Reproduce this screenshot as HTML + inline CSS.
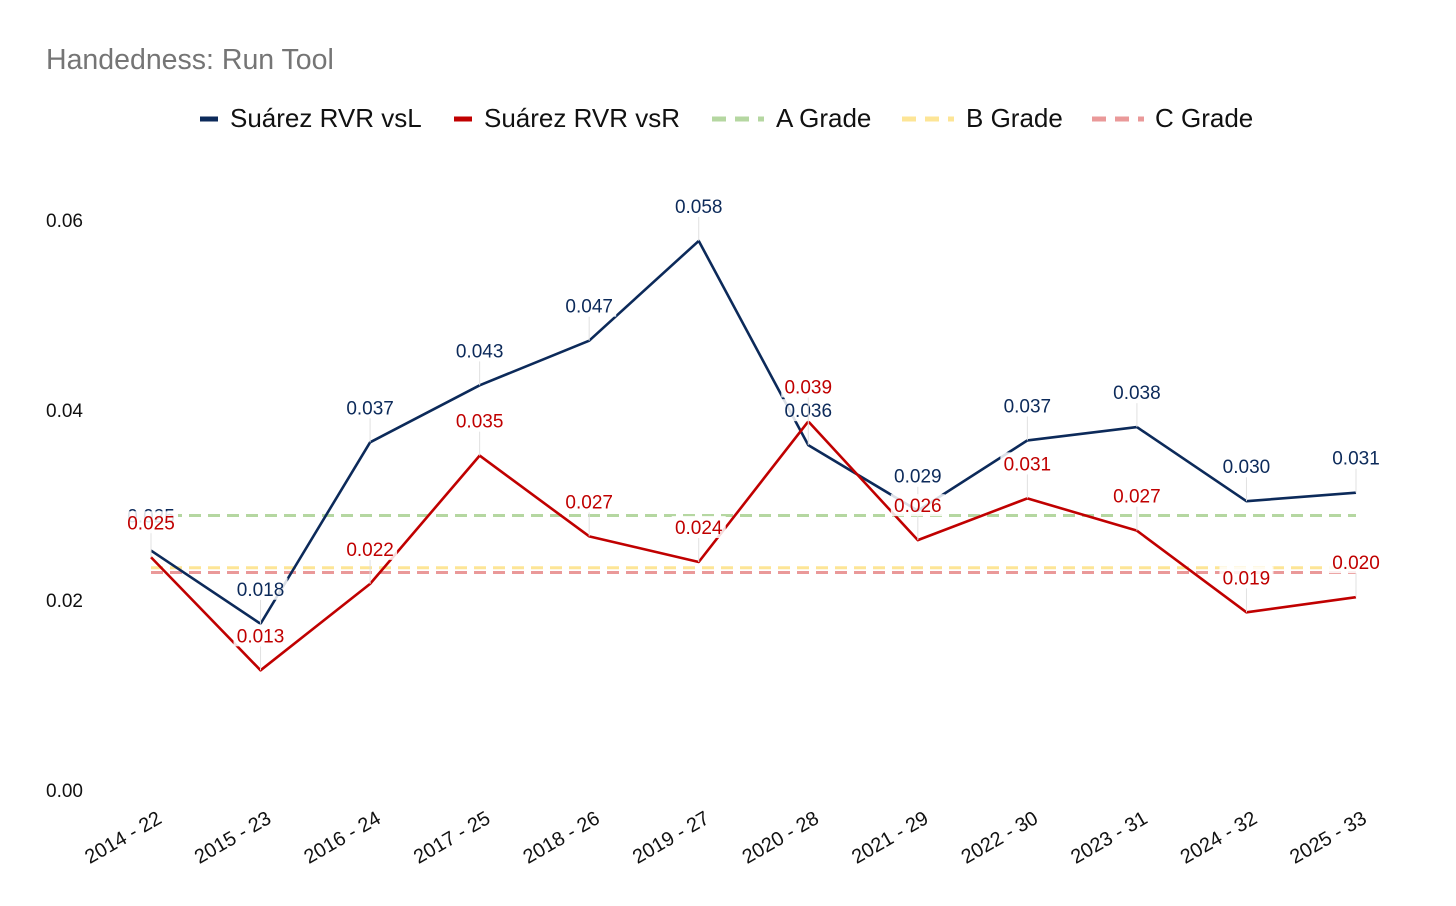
<!DOCTYPE html>
<html><head><meta charset="utf-8"><style>
body{margin:0;background:#fff;font-family:"Liberation Sans",sans-serif}
</style></head><body>
<svg width="1456" height="901" viewBox="0 0 1456 901" xmlns="http://www.w3.org/2000/svg">
<text x="46" y="69" font-size="28.5" fill="#757575">Handedness: Run Tool</text>
<g id="legend" font-size="26" fill="#111">
 <g><line x1="200" y1="119" x2="218" y2="119" stroke="#0c2a5a" stroke-width="5"/><text x="230" y="127">Suárez RVR vsL</text></g>
 <g><line x1="454" y1="119" x2="472" y2="119" stroke="#c00000" stroke-width="5"/><text x="484" y="127">Suárez RVR vsR</text></g>
 <g><line x1="712" y1="119" x2="764" y2="119" stroke="#b5d7a1" stroke-width="5" stroke-dasharray="14,9"/><text x="776" y="127">A Grade</text></g>
 <g><line x1="902" y1="119" x2="954" y2="119" stroke="#fde596" stroke-width="5" stroke-dasharray="14,9"/><text x="966" y="127">B Grade</text></g>
 <g><line x1="1092" y1="119" x2="1144" y2="119" stroke="#ea9999" stroke-width="5" stroke-dasharray="14,9"/><text x="1155" y="127">C Grade</text></g>
</g>
<g id="axes"></g>
<g id="grades"></g>
<g id="series"></g>
<g id="labels"></g>
</svg>
<script>
const categories=["2014 - 22","2015 - 23","2016 - 24","2017 - 25","2018 - 26","2019 - 27","2020 - 28","2021 - 29","2022 - 30","2023 - 31","2024 - 32","2025 - 33"];
const vsL=[0.0252,0.0175,0.0366,0.0426,0.0473,0.0578,0.0363,0.0294,0.0368,0.0382,0.0304,0.0313];
const vsR=[0.0245,0.0126,0.0217,0.0352,0.0267,0.0240,0.0388,0.0263,0.0307,0.0273,0.0187,0.0203];
const gradeA=0.0289, gradeB=0.0234, gradeC=0.0229;
const yTicks=[0,0.02,0.04,0.06];
const yTickLabels=["0.00","0.02","0.04","0.06"];
const NS="http://www.w3.org/2000/svg";
const xs=i=>151+i*(1205/(categories.length-1));
const ys=v=>790-v*9500;
function mk(tag,attrs,parent,text){const e=document.createElementNS(NS,tag);for(const k in attrs)e.setAttribute(k,attrs[k]);if(text!==undefined)e.textContent=text;parent.appendChild(e);return e;}
const axes=document.getElementById('axes');
yTicks.forEach((t,i)=>{const e=mk('text',{x:46,y:ys(t)+7,'font-size':19,fill:'#111'},axes,yTickLabels[i]);

});
categories.forEach((c,i)=>{const e=mk('text',{x:0,y:0,'font-size':20,fill:'#111','text-anchor':'end',transform:`translate(${xs(i)+12},${822}) rotate(-30)`},axes,c);

});
const gr=document.getElementById('grades');
[[gradeA,'#b5d7a1','a-grade-line'],[gradeB,'#fde596','b-grade-line'],[gradeC,'#ea9999','c-grade-line']].forEach(g=>{
const e=mk('line',{x1:xs(0),x2:xs(categories.length-1),y1:ys(g[0]),y2:ys(g[0]),stroke:g[1],'stroke-width':3,'stroke-dasharray':'12,7'},gr);

});
const se=document.getElementById('series'),lb=document.getElementById('labels');
[[vsL,'#0c2a5a','vsl'],[vsR,'#c00000','vsr']].forEach(s=>{
const p=mk('polyline',{points:s[0].map((v,i)=>xs(i)+','+ys(v)).join(' '),fill:'none',stroke:s[1],'stroke-width':2.6,'stroke-linejoin':'round'},se);


s[0].forEach((v,i)=>{const x=xs(i),y=ys(v);
mk('line',{x1:x,x2:x,y1:y-24,y2:y,stroke:'#e0e0e0','stroke-width':1},lb);
mk('rect',{x:x-27,y:y-46,width:54,height:22,fill:'#fff','fill-opacity':0.85},lb);
const t=mk('text',{x:x,y:y-28,'font-size':19,fill:s[1],'text-anchor':'middle'},lb,v.toFixed(3));

});});
</script>
</body></html>
